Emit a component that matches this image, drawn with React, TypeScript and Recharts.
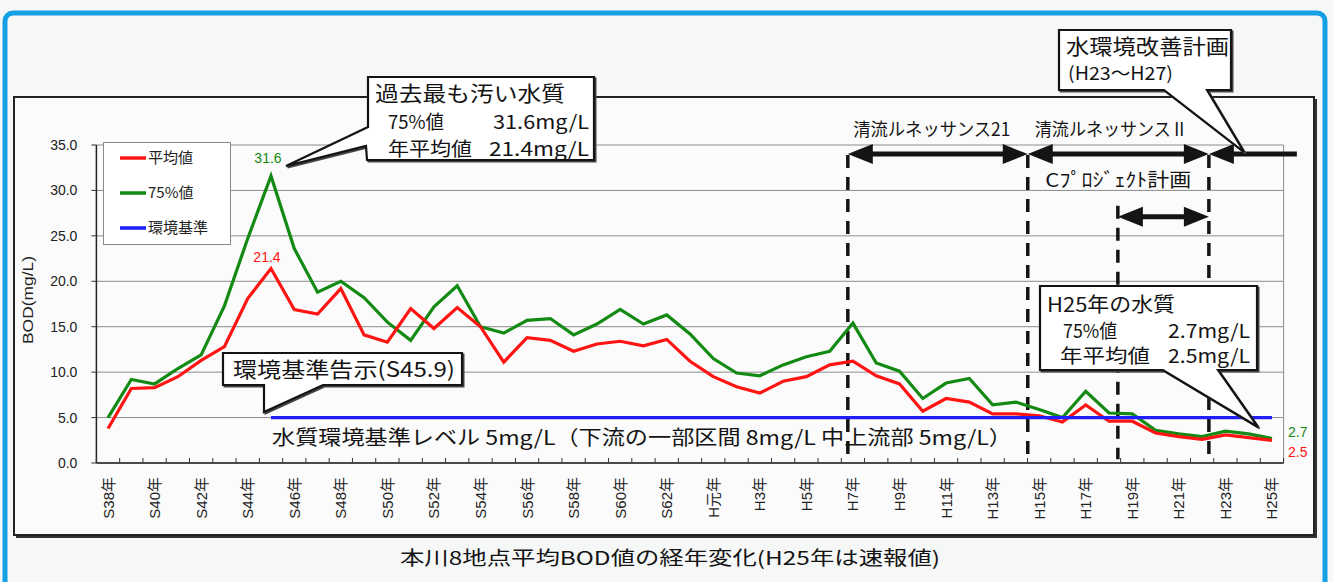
import React from 'react';
import { LineChart, Line, XAxis, YAxis, CartesianGrid, ReferenceLine, Legend, LabelList } from 'recharts';

// 年度ラベル (S38〜H25)
const YEARS = [
  'S38年', 'S39年', 'S40年', 'S41年', 'S42年', 'S43年', 'S44年', 'S45年', 'S46年', 'S47年',
  'S48年', 'S49年', 'S50年', 'S51年', 'S52年', 'S53年', 'S54年', 'S55年', 'S56年', 'S57年',
  'S58年', 'S59年', 'S60年', 'S61年', 'S62年', 'S63年', 'H元年', 'H2年', 'H3年', 'H4年',
  'H5年', 'H6年', 'H7年', 'H8年', 'H9年', 'H10年', 'H11年', 'H12年', 'H13年', 'H14年',
  'H15年', 'H16年', 'H17年', 'H18年', 'H19年', 'H20年', 'H21年', 'H22年', 'H23年', 'H24年',
  'H25年',
];

// 平均値 (mg/L)
const AVG = [
  3.8, 8.2, 8.3, 9.5, 11.3, 12.8, 18.1, 21.4, 16.9, 16.4,
  19.2, 14.1, 13.3, 17.0, 14.8, 17.1, 15.0, 11.1, 13.8, 13.5,
  12.3, 13.1, 13.4, 12.9, 13.6, 11.2, 9.5, 8.4, 7.7, 9.0,
  9.5, 10.8, 11.2, 9.6, 8.7, 5.7, 7.1, 6.7, 5.4, 5.4,
  5.2, 4.5, 6.4, 4.6, 4.6, 3.3, 2.9, 2.6, 3.1, 2.8,
  2.5,
];

// 75%値 (mg/L)
const P75 = [
  5.0, 9.2, 8.7, 10.4, 11.9, 17.3, 24.7, 31.6, 23.6, 18.8,
  20.0, 18.2, 15.5, 13.5, 17.2, 19.5, 15.0, 14.3, 15.7, 15.9,
  14.1, 15.3, 16.9, 15.3, 16.3, 14.2, 11.5, 9.9, 9.6, 10.8,
  11.7, 12.3, 15.4, 11.0, 10.1, 7.1, 8.8, 9.3, 6.4, 6.7,
  5.9, 5.0, 7.9, 5.5, 5.4, 3.6, 3.2, 2.9, 3.5, 3.2,
  2.7,
];

// 環境基準 (S45.9告示以降 5mg/L)
const STD = [
  null, null, null, null, null, null, null, 5, 5, 5,
  5, 5, 5, 5, 5, 5, 5, 5, 5, 5,
  5, 5, 5, 5, 5, 5, 5, 5, 5, 5,
  5, 5, 5, 5, 5, 5, 5, 5, 5, 5,
  5, 5, 5, 5, 5, 5, 5, 5, 5, 5,
  5,
];

const Y_TICKS = [0, 5, 10, 15, 20, 25, 30, 35];
const X_BOUNDS = [
  -0.5, 0.5, 1.5, 2.5, 3.5, 4.5, 5.5, 6.5, 7.5, 8.5, 9.5, 10.5, 11.5, 12.5, 13.5, 14.5, 15.5,
  16.5, 17.5, 18.5, 19.5, 20.5, 21.5, 22.5, 23.5, 24.5, 25.5, 26.5, 27.5, 28.5, 29.5, 30.5,
  31.5, 32.5, 33.5, 34.5, 35.5, 36.5, 37.5, 38.5, 39.5, 40.5, 41.5, 42.5, 43.5, 44.5, 45.5,
  46.5, 47.5, 48.5, 49.5, 50.5,
];

// 計画期間の区切り (年度インデックス上の位置)
const DIVIDERS = [31.78, 39.51, 47.29];
const C_START = 43.38;
const PLAN_END = 51.07;

const data = YEARS.map((label, i) => ({ idx: i, label, avg: AVG[i], p75: P75[i], std: STD[i] }));

const W = 1333;
const H = 582;
const MARGIN = { top: 145, right: 49.4, bottom: 59, left: 36.4 };
const Y_W = 60;
const X_H = 60;
const BAND = (W - MARGIN.left - MARGIN.right - Y_W) / YEARS.length;

const RED = '#ff1414';
const GREEN = '#138a13';
const BLUE = '#1e1eff';
const INK = '#141414';
const CJK = "'Noto Sans CJK JP', 'Noto Sans', sans-serif";
const LATIN = "'Liberation Sans Narrow', 'Liberation Sans', 'Noto Sans CJK JP', sans-serif";

const XTick = (props: any) => {
  const { x, y, payload } = props;
  const k = payload.value + 0.5;
  const showLabel = k <= YEARS.length - 1 && k % 2 === 0;
  return (
    <g>
      <line x1={x} x2={x} y1={y} y2={y - 5} stroke="#333" strokeWidth={1} />
      {showLabel && (
        <text
          transform={`translate(${x + BAND / 2 + 5.5},${y + 14}) rotate(-90)`}
          textAnchor="end"
          fontSize={15}
          fill="#222"
          fontFamily={LATIN}
        >
          {YEARS[k]}
        </text>
      )}
    </g>
  );
};

const endLabel = (color: string, spots: Record<number, [number, number, string]>) => (props: any) => {
  const { x, y, value, index } = props;
  const s = spots[index];
  if (!s) return null;
  return (
    <text x={x + s[0]} y={y + s[1]} textAnchor={s[2] as any} fontSize={14} fill={color} fontFamily={LATIN}>
      {Number(value).toFixed(1)}
    </text>
  );
};

const arrowShape = (both: boolean, text?: string, dx = 0, dy = -18, fs = 18, len?: number) => (p: any) => {
  const { x1, y1, x2 } = p;
  const y = y1;
  const L = 25;
  const HW = 10;
  return (
    <g>
      <line x1={x1 + L - 2} x2={both ? x2 - L + 2 : x2} y1={y} y2={y} stroke={INK} strokeWidth={5} />
      <polygon points={`${x1},${y} ${x1 + L},${y - HW} ${x1 + L},${y + HW}`} fill={INK} />
      {both && <polygon points={`${x2},${y} ${x2 - L},${y - HW} ${x2 - L},${y + HW}`} fill={INK} />}
      {text && (
        <text
          x={(x1 + x2) / 2 + dx}
          y={y + dy}
          textAnchor="middle"
          fontSize={fs}
          fill={INK}
          fontFamily={CJK}
          textLength={len}
          lengthAdjust={len ? 'spacingAndGlyphs' : undefined}
        >
          {text}
        </text>
      )}
    </g>
  );
};

const LegendBox = () => {
  const items = [
    { name: '平均値', color: RED },
    { name: '75%値', color: GREEN },
    { name: '環境基準', color: BLUE },
  ];
  return (
    <svg width={128} height={103} style={{ display: 'block' }}>
      <rect x={0.5} y={0.5} width={127} height={102} fill="#fff" stroke="#8a8a8a" />
      {items.map((it, i) => (
        <g key={it.name}>
          <line x1={17} x2={43} y1={16 + i * 35} y2={16 + i * 35} stroke={it.color} strokeWidth={3.5} />
          <text x={45} y={21 + i * 35} fontSize={15} fill="#222" fontFamily={CJK}>
            {it.name}
          </text>
        </g>
      ))}
    </svg>
  );
};

const Backdrop = () => (
  <svg width={W} height={H} style={{ position: 'absolute', left: 0, top: 0 }}>
    <rect width={W} height={H} fill="#f6f7f7" />
    <rect x={5} y={13} width={1320} height={640} rx={8} fill="none" stroke="#15a0e6" strokeWidth={5} />
    <rect x={14} y={97} width={1300} height={438} fill="#fbfbfb" stroke="#222" strokeWidth={2} />
    <polyline points="16,537 1316,537 1316,99" fill="none" stroke="#333" strokeWidth={2} />
    <text x={400} y={565} fontSize={19} fill={INK} fontFamily={CJK} textLength={540} lengthAdjust="spacingAndGlyphs">
      本川8地点平均BOD値の経年変化(H25年は速報値)
    </text>
  </svg>
);

const Callout = ({ d }: { d: string }) => (
  <g>
    <path d={d} transform="translate(1.5,1.5)" fill="#444" stroke="#444" strokeWidth={2} />
    <path d={d} fill="#fff" stroke={INK} strokeWidth={2.2} />
  </g>
);

const Notes = () => (
  <svg width={W} height={H} style={{ position: 'absolute', left: 0, top: 0, pointerEvents: 'none' }} fontFamily={CJK} fill={INK}>
    <text x={272} y={445} fontSize={20} textLength={740} lengthAdjust="spacingAndGlyphs">
      水質環境基準レベル 5mg/L（下流の一部区間 8mg/L 中上流部 5mg/L）
    </text>

    <Callout d="M368,77 L594,77 L594,160 L367,160 L366,146 L286,166 L368,127 Z" />
    <text x={375} y={101} fontSize={21} textLength={190} lengthAdjust="spacingAndGlyphs">過去最も汚い水質</text>
    <text x={388} y={129} fontSize={19} textLength={56} lengthAdjust="spacingAndGlyphs">75%値</text>
    <text x={589} y={129} fontSize={19} textAnchor="end" textLength={96} lengthAdjust="spacingAndGlyphs">31.6mg/L</text>
    <text x={388} y={156} fontSize={19} textLength={84} lengthAdjust="spacingAndGlyphs">年平均値</text>
    <text x={589} y={156} fontSize={19} textAnchor="end" textLength={100} lengthAdjust="spacingAndGlyphs">21.4mg/L</text>

    <Callout d="M223,353 L462,353 L462,385 L323,385 L264,412 L264,385 L223,385 Z" />
    <text x={233} y={377} fontSize={21} textLength={222} lengthAdjust="spacingAndGlyphs">環境基準告示(S45.9)</text>

    <Callout d="M1040,286 L1257,286 L1257,370 L1218,370 L1258,427 L1163,370 L1040,370 Z" />
    <text x={1047} y={312} fontSize={20} textLength={128} lengthAdjust="spacingAndGlyphs">H25年の水質</text>
    <text x={1063} y={338} fontSize={19} textLength={54} lengthAdjust="spacingAndGlyphs">75%値</text>
    <text x={1250} y={338} fontSize={19} textAnchor="end" textLength={82} lengthAdjust="spacingAndGlyphs">2.7mg/L</text>
    <text x={1060} y={363} fontSize={19} textLength={90} lengthAdjust="spacingAndGlyphs">年平均値</text>
    <text x={1250} y={363} fontSize={19} textAnchor="end" textLength={82} lengthAdjust="spacingAndGlyphs">2.5mg/L</text>

    <Callout d="M1059,30 L1231,30 L1231,90 L1207,90 L1244,152 L1164,90 L1059,90 Z" />
    <text x={1066} y={54} fontSize={21} textLength={163} lengthAdjust="spacingAndGlyphs">水環境改善計画</text>
    <text x={1068} y={80} fontSize={18} textLength={105} lengthAdjust="spacingAndGlyphs">(H23〜H27)</text>
  </svg>
);

export default function App() {
  return (
    <div style={{ position: 'absolute', left: 0, top: 0, width: W, height: H, overflow: 'hidden' }}>
      <Backdrop />
      <div style={{ position: 'absolute', left: 0, top: 0 }}>
        <LineChart width={W} height={H} data={data} margin={MARGIN} style={{ fontFamily: LATIN }}>
          <CartesianGrid vertical={false} stroke="#8c8c8c" />
          <XAxis
            dataKey="idx"
            type="number"
            domain={[-0.5, 50.5]}
            ticks={X_BOUNDS}
            interval={0}
            height={X_H}
            tick={<XTick />}
            tickLine={false}
            tickSize={0}
            tickMargin={0}
            axisLine={{ stroke: '#222', strokeWidth: 1.5 }}
          />
          <YAxis
            type="number"
            domain={[0, 35]}
            ticks={Y_TICKS}
            width={Y_W}
            tickFormatter={(v: number) => v.toFixed(1)}
            tick={{ fill: '#222', fontSize: 14 }}
            tickSize={5}
            tickMargin={14}
            tickLine={{ stroke: '#333' }}
            axisLine={{ stroke: '#222', strokeWidth: 1.5 }}
            label={(p: any) => {
              const vb = p.viewBox || { x: MARGIN.left, y: MARGIN.top, height: 318 };
              const cx = vb.x - 3;
              const cy = vb.y + vb.height / 2 - 4;
              return (
                <text
                  x={cx}
                  y={cy}
                  transform={`rotate(-90,${cx},${cy})`}
                  textAnchor="middle"
                  fontSize={15}
                  fill="#222"
                  fontFamily={LATIN}
                  textLength={88}
                  lengthAdjust="spacingAndGlyphs"
                >
                  BOD(mg/L)
                </text>
              );
            }}
          />
          <ReferenceLine x={50.5} stroke="#8c8c8c" />
          <Legend
            layout="vertical"
            align="center"
            verticalAlign="middle"
            wrapperStyle={{ left: 103, top: 142, width: 128, height: 103, margin: 0 }}
            content={() => <LegendBox />}
          />

          {DIVIDERS.map((x) => (
            <ReferenceLine
              key={x}
              segment={[{ x, y: 33.9 }, { x, y: 1.0 }]}
              stroke={INK}
              strokeWidth={3.5}
              strokeDasharray="13 9"
              ifOverflow="visible"
            />
          ))}
          <ReferenceLine
            segment={[{ x: C_START, y: 28.3 }, { x: C_START, y: 0.4 }]}
            stroke={INK}
            strokeWidth={3.5}
            strokeDasharray="13 9"
            ifOverflow="visible"
          />

          <ReferenceLine
            segment={[{ x: DIVIDERS[0], y: 34.0 }, { x: DIVIDERS[1], y: 34.0 }]}
            ifOverflow="visible"
            shape={arrowShape(true, '清流ルネッサンス21', -6, -18, 18, 157)}
          />
          <ReferenceLine
            segment={[{ x: DIVIDERS[1], y: 34.0 }, { x: DIVIDERS[2], y: 34.0 }]}
            ifOverflow="visible"
            shape={arrowShape(true, '清流ルネッサンスⅡ', -7, -18, 18, 153)}
          />
          <ReferenceLine
            segment={[{ x: DIVIDERS[2], y: 34.0 }, { x: PLAN_END, y: 34.0 }]}
            ifOverflow="visible"
            shape={arrowShape(false)}
          />
          <ReferenceLine
            segment={[{ x: C_START, y: 27.1 }, { x: DIVIDERS[2], y: 27.1 }]}
            ifOverflow="visible"
            shape={arrowShape(true, 'Cﾌﾟﾛｼﾞｪｸﾄ計画', -45, -30, 19, 146)}
          />

          <Line type="linear" dataKey="p75" name="75%値" stroke={GREEN} strokeWidth={3.2} dot={false} isAnimationActive={false}>
            <LabelList dataKey="p75" content={endLabel(GREEN, { 7: [-3, -13, 'middle'], 50: [16, -1, 'start'] })} />
          </Line>
          <Line type="linear" dataKey="avg" name="平均値" stroke={RED} strokeWidth={3.2} dot={false} isAnimationActive={false}>
            <LabelList dataKey="avg" content={endLabel(RED, { 7: [-4, -7, 'middle'], 50: [16, 17, 'start'] })} />
          </Line>
          <Line type="linear" dataKey="std" name="環境基準" stroke={BLUE} strokeWidth={3.2} dot={false} isAnimationActive={false} />
        </LineChart>
      </div>
      <Notes />
    </div>
  );
}
